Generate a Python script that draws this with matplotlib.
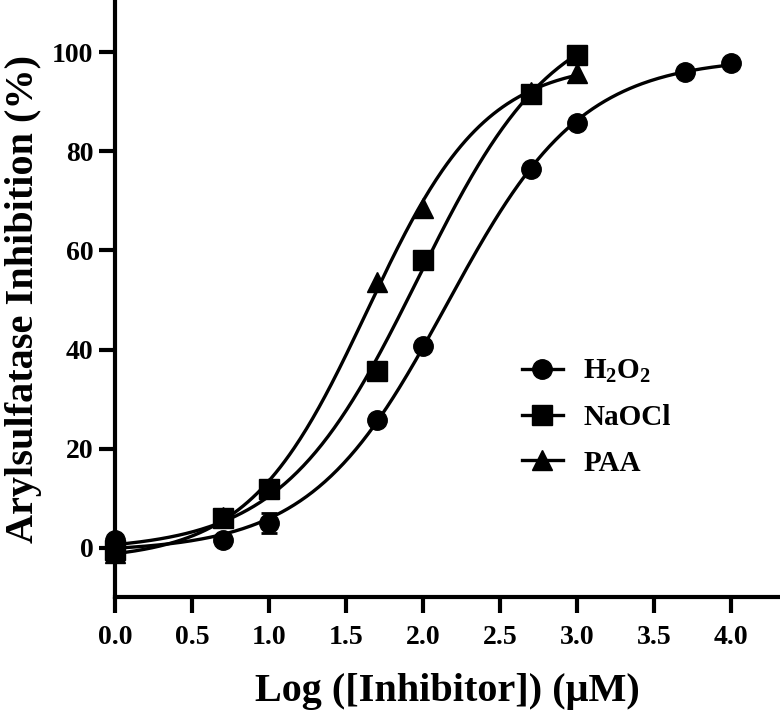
import matplotlib
matplotlib.use('Agg')
import matplotlib.pyplot as plt
import numpy as np

plt.rcParams['font.family'] = 'Liberation Serif'
plt.rcParams['font.weight'] = 'bold'
plt.rcParams['mathtext.fontset'] = 'custom'
plt.rcParams['mathtext.rm'] = 'Liberation Serif:bold'
plt.rcParams['mathtext.it'] = 'Liberation Serif:bold'
plt.rcParams['mathtext.bf'] = 'Liberation Serif:bold'

# data (log uM, % inhibition)
h2o2_x = [0.0, 0.7, 1.0, 1.7, 2.0, 2.7, 3.0, 3.7, 4.0]
h2o2_y = [1.5, 1.6, 5.0, 25.8, 40.7, 76.4, 85.7, 96.0, 97.8]
h2o2_err = [0, 0, 2.0, 0, 0, 0, 0, 0, 0]

naocl_x = [0.0, 0.7, 1.0, 1.7, 2.0, 2.7, 3.0]
naocl_y = [-0.5, 6.0, 11.8, 35.7, 58.0, 91.5, 99.4]

paa_x = [0.0, 0.7, 1.0, 1.7, 2.0, 2.7, 3.0]
paa_y = [-1.0, 6.3, 12.0, 53.6, 68.5, 92.0, 95.8]

labels = [r'H$_2$O$_2$', 'NaOCl', 'PAA']
markers = ['o', 's', '^']


def logistic(p, x):
    bottom, top, logic50, hill = p
    return bottom + (top - bottom) / (1 + 10 ** ((logic50 - x) * hill))


def fit4pl(x, y):
    # small levenberg-marquardt, no scipy here
    x = np.asarray(x, float)
    y = np.asarray(y, float)
    p = np.array([min(y), max(y), np.mean(x), 1.0])
    lam = 1e-2
    for it in range(500):
        r = y - logistic(p, x)
        J = np.zeros((len(x), 4))
        for k in range(4):
            dp = np.zeros(4)
            dp[k] = 1e-6 * max(1, abs(p[k]))
            J[:, k] = (logistic(p + dp, x) - logistic(p - dp, x)) / (2 * dp[k])
        A = J.T @ J
        g = J.T @ r
        step = np.linalg.solve(A + lam * np.diag(np.diag(A)), g)
        pn = p + step
        if np.sum((y - logistic(pn, x)) ** 2) < np.sum(r ** 2):
            p = pn
            lam *= 0.3
        else:
            lam *= 10
    return p


fig = plt.figure(figsize=(7.8, 7.12), dpi=100)
ax = fig.add_axes([0.1474, 0.1615, 0.8526, 0.8385])

series = [(h2o2_x, h2o2_y), (naocl_x, naocl_y), (paa_x, paa_y)]
handles = []
for (xs, ys), lab, mk in zip(series, labels, markers):
    p = fit4pl(xs, ys)
    xx = np.linspace(min(xs), max(xs), 300)
    ax.plot(xx, logistic(p, xx), color='black', lw=2.4, zorder=2)
    ms = 14 if mk != '^' else 15
    ax.plot(xs, ys, linestyle='none', marker=mk, color='black', ms=ms,
            zorder=3, clip_on=False)
    h, = ax.plot([], [], color='black', lw=2.4, marker=mk, ms=ms, label=lab)
    handles.append(h)

ax.errorbar(h2o2_x, h2o2_y, yerr=h2o2_err, fmt='none', ecolor='black',
            elinewidth=2, capsize=6, capthick=2, zorder=3)

ax.set_xlim(0, 4.32)
ax.set_ylim(-9.9, 110.5)
ax.set_xticks(np.arange(0, 4.01, 0.5))
ax.set_yticks(np.arange(0, 101, 20))
ax.set_xticklabels(['%.1f' % v for v in np.arange(0, 4.01, 0.5)])

for s in ['top', 'right']:
    ax.spines[s].set_visible(False)
for s in ['left', 'bottom']:
    ax.spines[s].set_linewidth(3)
ax.tick_params(width=3, length=11.5, labelsize=20, direction='out')
ax.tick_params(axis='x', pad=9)
ax.tick_params(axis='y', pad=4)

ax.set_xlabel('Log ([Inhibitor]) (\u03bcM)', fontsize=29, fontweight='bold', labelpad=16)
ax.set_ylabel('Arylsulfatase Inhibition (%)', fontsize=29, fontweight='bold', labelpad=7)

fig.legend(handles=handles, loc='upper left', bbox_to_anchor=(0.669, 0.497),
           frameon=False, fontsize=21, handlelength=1.4, labelspacing=0.64,
           handletextpad=0.7, borderpad=0, borderaxespad=0)

fig.savefig('out.png', dpi=100)
